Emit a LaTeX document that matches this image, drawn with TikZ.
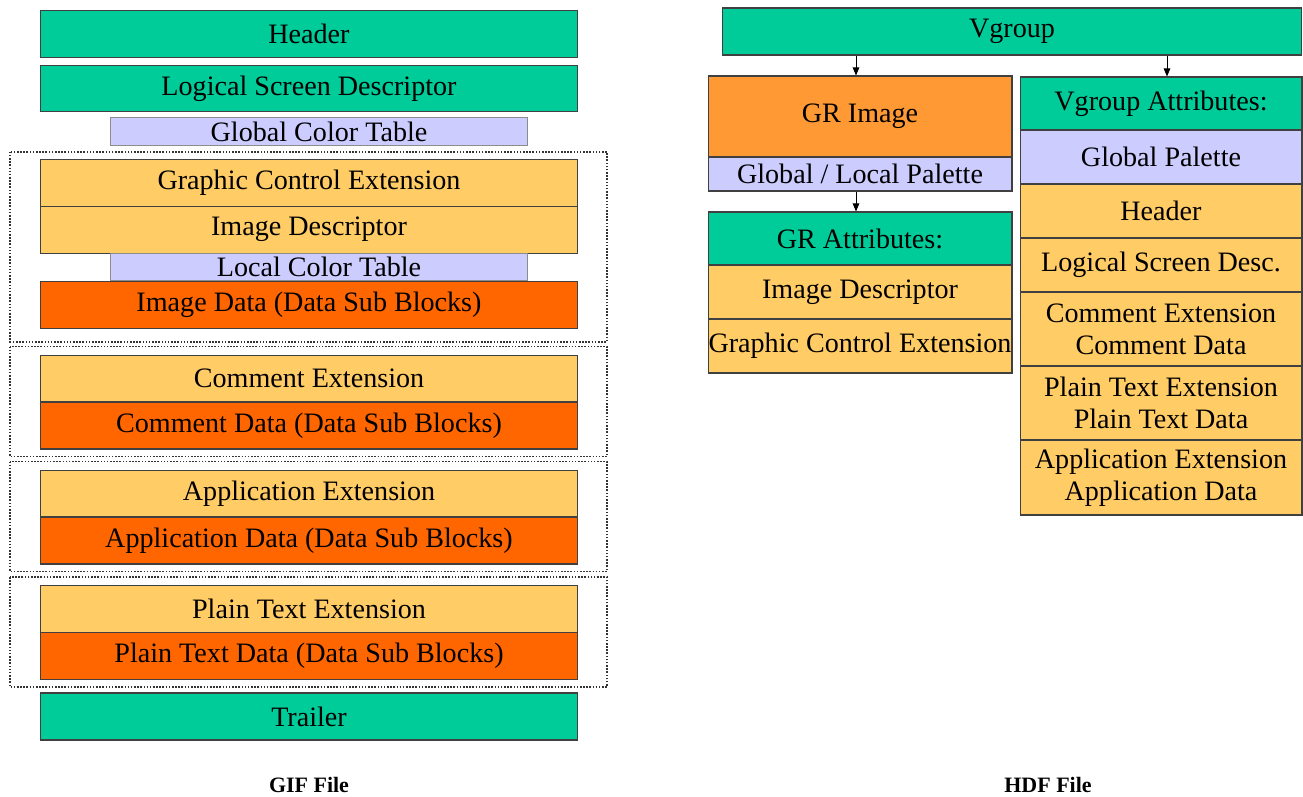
\documentclass[tikz,border=0pt]{standalone}
\usepackage{fontspec}
\setmainfont{Liberation Serif}
\usetikzlibrary{arrows.meta}
\definecolor{grn}{HTML}{00CC99}
\definecolor{lor}{HTML}{FFCC66}
\definecolor{dor}{HTML}{FF6600}
\definecolor{mor}{HTML}{FF9933}
\definecolor{lav}{HTML}{CCCCFF}
\begin{document}
\begin{tikzpicture}[x=0.02cm,y=-0.02cm,
  blk/.style={draw=black!75,line width=0.6pt,inner sep=0pt,align=center,
    font=\fontsize{16}{18.2}\selectfont},
  full/.style={blk,minimum width=10.76cm,minimum height=0.94cm},
  narrow/.style={blk,draw=black!45,fill=lav,minimum width=8.34cm,minimum height=0.55cm},
  lcol/.style={blk,minimum width=6.08cm},
  rcol/.style={blk,fill=lor,minimum width=5.64cm,minimum height=1.08cm},
  grp/.style={draw=black!80,line width=0.9pt,dash pattern=on 0.9pt off 0.9pt},
  ftitle/.style={inner sep=0pt,font=\fontsize{12.5}{14}\selectfont\bfseries},
  arr/.style={-{Triangle[length=1.6mm,width=1.3mm]},line width=0.5pt}]
  \useasboundingbox (0,0) rectangle (1303,796);
  % GIF file
  \node[full,fill=grn] (hdr) at (309,34) {Header};
  \node[full,fill=grn,minimum height=0.92cm] (lsd) at (309,88.5) {Logical Screen Descriptor};
  \node[narrow] (gct) at (319,131.5) {Global Color Table};
  \draw[grp] (10,151.7) rectangle (607,341.7);
  \node[full,fill=lor] (gce) at (309,182.7) {Graphic Control Extension};
  \node[full,fill=lor] (imd) at (309,229.7) {Image Descriptor};
  \node[narrow] (lct) at (319,267.2) {Local Color Table};
  \node[full,fill=dor] (imgd) at (309,304.7) {Image Data (Data Sub Blocks)};
  \draw[grp] (10,346.5) rectangle (607,456.5);
  \node[full,fill=lor] (cme) at (309,378.8) {Comment Extension};
  \node[full,fill=dor] (cmd) at (309,425.5) {Comment Data (Data Sub Blocks)};
  \draw[grp] (10,461.5) rectangle (607,571.5);
  \node[full,fill=lor] (ape) at (309,493.8) {Application Extension};
  \node[full,fill=dor] (apd) at (309,540.5) {Application Data (Data Sub Blocks)};
  \draw[grp] (10,577) rectangle (607,687);
  \node[full,fill=lor] (pte) at (309,609.3) {Plain Text Extension};
  \node[full,fill=dor] (ptd) at (309,656) {Plain Text Data (Data Sub Blocks)};
  \node[full,fill=grn] (trl) at (309,716.5) {Trailer};
  \node[ftitle] (gif) at (309,785) {GIF File};
  % HDF file
  \node[blk,fill=grn,minimum width=11.6cm,minimum height=0.94cm] (vg) at (1012,31.5) {Vgroup};
  \node[lcol,fill=mor,minimum height=1.62cm] (gri) at (860,116.5) {GR Image};
  \node[lcol,fill=lav,minimum height=0.68cm] (pal) at (860,174) {Global / Local Palette};
  \node[lcol,fill=grn,minimum height=1.06cm] (gra) at (860,238.5) {GR Attributes:};
  \node[lcol,fill=lor,minimum height=1.08cm] (rid) at (860,292) {Image Descriptor};
  \node[lcol,fill=lor,minimum height=1.08cm] (rgce) at (860,346) {Graphic Control Extension};
  \node[rcol,fill=grn,minimum height=1.06cm] (vga) at (1161,103.5) {Vgroup Attributes:};
  \node[rcol,fill=lav] (gpal) at (1161,157) {Global Palette};
  \node[rcol] (rhdr) at (1161,211) {Header};
  \node[rcol] (rlsd) at (1161,265) {Logical Screen Desc.};
  \node[rcol,minimum height=1.48cm] (rcom) at (1161,329) {Comment Extension\\Comment Data};
  \node[rcol,minimum height=1.48cm] (rpt) at (1161,403) {Plain Text Extension\\Plain Text Data};
  \node[rcol,minimum height=1.5cm] (rapp) at (1161,477.5) {Application Extension\\Application Data};
  \node[ftitle] (hdf) at (1048,785) {HDF File};
  \draw[arr] (vg.south -| 856,0) -- (gri.north -| 856,0);
  \draw[arr] (vg.south -| 1167,0) -- (vga.north -| 1167,0);
  \draw[arr] (pal.south -| 856,0) -- (gra.north -| 856,0);
\end{tikzpicture}
\end{document}
